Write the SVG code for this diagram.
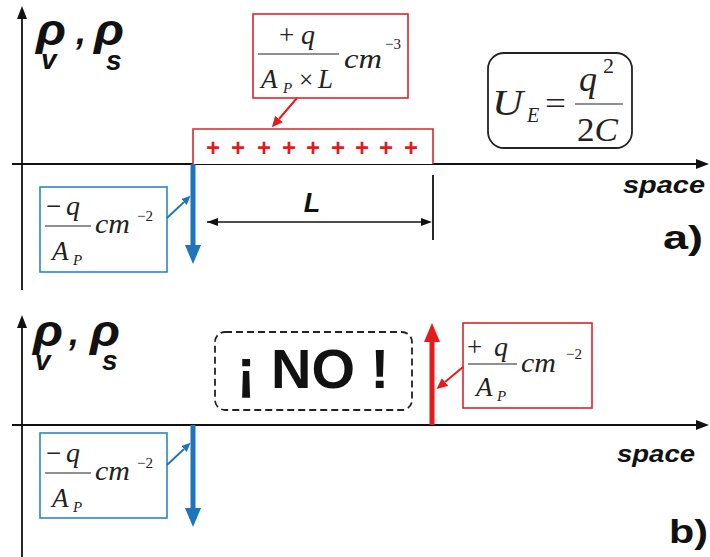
<svg xmlns="http://www.w3.org/2000/svg" width="710" height="557" viewBox="0 0 710 557">
<style>
.ax{stroke:#111;stroke-width:1.8;fill:none}
.rho{font-family:"Liberation Sans",Arial,sans-serif;font-weight:bold;font-style:italic;fill:#111}
.lab{font-family:"Liberation Sans",Arial,sans-serif;font-weight:bold;fill:#111}
.m{font-family:"Liberation Serif","Times New Roman",serif;fill:#222}
.mi{font-family:"Liberation Serif","Times New Roman",serif;font-style:italic;fill:#222}
.rbox{fill:#fff;stroke:#d8262e;stroke-width:1.6}
.bbox{fill:#fff;stroke:#2a86c8;stroke-width:1.6}
.frac{stroke:#222;stroke-width:1.2}
.plus{font-family:"Liberation Sans",Arial,sans-serif;font-weight:bold;fill:#e41a1c;font-size:24px}
</style>
<defs>
<marker id="ah" markerUnits="userSpaceOnUse" markerWidth="14" markerHeight="10" refX="0" refY="5" orient="auto"><path d="M0,0 L13,5 L0,10 z" fill="#111"/></marker>
<marker id="ahs" markerUnits="userSpaceOnUse" markerWidth="12" markerHeight="8" refX="0" refY="4" orient="auto"><path d="M0,0 L11,4 L0,8 z" fill="#111"/></marker>
<marker id="ahsr" markerUnits="userSpaceOnUse" markerWidth="12" markerHeight="8" refX="11" refY="4" orient="auto-start-reverse"><path d="M0,0 L11,4 L0,8 z" fill="#111"/></marker>
<marker id="blueBig" markerUnits="userSpaceOnUse" markerWidth="20" markerHeight="16" refX="0" refY="8" orient="auto"><path d="M0,0 L19,8 L0,16 z" fill="#1e74bd"/></marker>
<marker id="redBig" markerUnits="userSpaceOnUse" markerWidth="20" markerHeight="16" refX="0" refY="8" orient="auto"><path d="M0,0 L19,8 L0,16 z" fill="#e41a1c"/></marker>
<marker id="blueSm" markerUnits="userSpaceOnUse" markerWidth="10" markerHeight="8" refX="0" refY="4" orient="auto"><path d="M0,0 L9,4 L0,8 z" fill="#1e74bd"/></marker>
<marker id="redSm" markerUnits="userSpaceOnUse" markerWidth="12" markerHeight="10" refX="0" refY="5" orient="auto"><path d="M0,0 L11,5 L0,10 z" fill="#e41a1c"/></marker>
</defs>
<rect width="710" height="557" fill="#fff"/>

<!-- ===== Panel a ===== -->
<g id="axes-a">
<line class="ax" x1="22" y1="290" x2="22" y2="19" marker-end="url(#ah)"/>
<line class="ax" x1="12" y1="164" x2="696" y2="164" marker-end="url(#ah)"/>
<text class="rho" x="36" y="45" font-size="44" textLength="30" lengthAdjust="spacingAndGlyphs">ρ</text>
<text class="rho" x="41" y="69" font-size="28">v</text>
<text class="rho" x="76" y="44" font-size="36">,</text>
<text class="rho" x="94" y="45" font-size="44" textLength="30" lengthAdjust="spacingAndGlyphs">ρ</text>
<text class="rho" x="106" y="70" font-size="28">s</text>
<text class="rho" x="623" y="193" font-size="24" textLength="82" lengthAdjust="spacingAndGlyphs">space</text>
<text class="lab" x="663" y="249" font-size="34" textLength="40" lengthAdjust="spacingAndGlyphs">a)</text>
</g>

<g id="volume-charge">
<path class="rbox" d="M193,164 V129 H433 V164" fill="none"/>
<text class="plus" text-anchor="middle" y="156"><tspan x="213">+</tspan><tspan x="238">+</tspan><tspan x="264">+</tspan><tspan x="289">+</tspan><tspan x="313">+</tspan><tspan x="338">+</tspan><tspan x="362">+</tspan><tspan x="386">+</tspan><tspan x="411">+</tspan></text>
</g>

<g id="label-volume">
<rect class="rbox" x="253" y="14" width="155" height="84"/>
<text class="m" x="279" y="44" font-size="27">+</text>
<text class="mi" x="301" y="44" font-size="28">q</text>
<line class="frac" x1="258" y1="54" x2="339" y2="54"/>
<text class="mi" x="261" y="88" font-size="27">A</text>
<text class="mi" x="283" y="93" font-size="15">P</text>
<text class="m" x="299" y="88" font-size="25">×</text>
<text class="mi" x="318" y="88" font-size="27">L</text>
<text class="mi" x="344" y="68" font-size="28" textLength="38" lengthAdjust="spacingAndGlyphs">cm</text>
<text class="m" x="385" y="49" font-size="15">−3</text>
</g>

<g id="energy">
<rect x="488" y="53" width="144" height="95" rx="16" fill="#fff" stroke="#222" stroke-width="1.8"/>
<text class="mi" x="492" y="115" font-size="35" textLength="31" lengthAdjust="spacingAndGlyphs">U</text>
<text class="mi" x="527" y="122" font-size="20">E</text>
<text class="m" x="545" y="114" font-size="32" textLength="21" lengthAdjust="spacingAndGlyphs">=</text>
<text class="mi" x="579" y="91" font-size="36">q</text>
<text class="m" x="603" y="73" font-size="22">2</text>
<line class="frac" x1="575" y1="104" x2="623" y2="104"/>
<text class="m" x="577" y="141" font-size="34" textLength="41" lengthAdjust="spacingAndGlyphs">2<tspan font-style="italic">C</tspan></text>
</g>

<g id="surface-charge-a">
<line x1="193" y1="164" x2="193" y2="245" stroke="#1e74bd" stroke-width="5" marker-end="url(#blueBig)"/>
</g>

<g id="label-surface-a">
<rect class="bbox" x="40" y="187" width="127" height="85"/>
<text class="m" x="46" y="215" font-size="27">−</text>
<text class="mi" x="66" y="215" font-size="28">q</text>
<line class="frac" x1="45" y1="226" x2="91" y2="226"/>
<text class="mi" x="52" y="260" font-size="27">A</text>
<text class="mi" x="73" y="265" font-size="15">P</text>
<text class="mi" x="95" y="233" font-size="28" textLength="35" lengthAdjust="spacingAndGlyphs">cm</text>
<text class="m" x="137" y="221" font-size="15">−2</text>
</g>

<g id="dimension-L">
<line class="ax" x1="433" y1="175" x2="433" y2="240" stroke-width="1.5"/>
<line x1="207" y1="222" x2="421" y2="222" stroke="#111" stroke-width="1.5" marker-end="url(#ahs)" marker-start="url(#ahsr)"/>
<text class="rho" x="312" y="212" font-size="27" text-anchor="middle">L</text>
</g>

<!-- ===== Panel b ===== -->
<g id="axes-b">
<line class="ax" x1="22" y1="557" x2="22" y2="328" marker-end="url(#ah)"/>
<line class="ax" x1="12" y1="425" x2="696" y2="425" marker-end="url(#ah)"/>
<text class="rho" x="33" y="346" font-size="44" textLength="30" lengthAdjust="spacingAndGlyphs">ρ</text>
<text class="rho" x="35" y="370" font-size="28">v</text>
<text class="rho" x="69" y="345" font-size="36">,</text>
<text class="rho" x="90" y="346" font-size="44" textLength="30" lengthAdjust="spacingAndGlyphs">ρ</text>
<text class="rho" x="102" y="370" font-size="28">s</text>
<text class="rho" x="617" y="462" font-size="24" textLength="78" lengthAdjust="spacingAndGlyphs">space</text>
<text class="lab" x="669" y="543" font-size="34" textLength="39" lengthAdjust="spacingAndGlyphs">b)</text>
</g>

<g id="no-box">
<rect x="215" y="332" width="197" height="78" rx="10" fill="#fff" stroke="#222" stroke-width="1.8" stroke-dasharray="7,4"/>
<text class="lab" x="313" y="388" font-size="56" text-anchor="middle">¡ NO !</text>
</g>

<g id="surface-charge-plus">
<line x1="432" y1="425" x2="432" y2="342" stroke="#e41a1c" stroke-width="5" marker-end="url(#redBig)"/>
</g>

<g id="label-surface-plus">
<rect class="rbox" x="463" y="323" width="129" height="85"/>
<text class="m" x="467" y="356" font-size="27">+</text>
<text class="mi" x="494" y="356" font-size="28">q</text>
<line class="frac" x1="468" y1="364" x2="517" y2="364"/>
<text class="mi" x="476" y="396" font-size="27">A</text>
<text class="mi" x="497" y="401" font-size="15">P</text>
<text class="mi" x="521" y="372" font-size="28" textLength="35" lengthAdjust="spacingAndGlyphs">cm</text>
<text class="m" x="566" y="359" font-size="15">−2</text>
</g>

<g id="surface-charge-b">
<line x1="193" y1="425" x2="193" y2="508" stroke="#1e74bd" stroke-width="5" marker-end="url(#blueBig)"/>
</g>

<g id="label-surface-b">
<rect class="bbox" x="40" y="433" width="127" height="85"/>
<text class="m" x="46" y="462" font-size="27">−</text>
<text class="mi" x="66" y="462" font-size="28">q</text>
<line class="frac" x1="45" y1="473" x2="91" y2="473"/>
<text class="mi" x="52" y="507" font-size="27">A</text>
<text class="mi" x="73" y="512" font-size="15">P</text>
<text class="mi" x="95" y="480" font-size="28" textLength="35" lengthAdjust="spacingAndGlyphs">cm</text>
<text class="m" x="137" y="468" font-size="15">−2</text>
</g>

<g id="connectors">
<line x1="297" y1="98" x2="279" y2="119" stroke="#e41a1c" stroke-width="2" marker-end="url(#redSm)"/>
<line x1="167" y1="218" x2="184" y2="202" stroke="#1e74bd" stroke-width="1.8" marker-end="url(#blueSm)"/>
<line x1="463" y1="367" x2="445" y2="382" stroke="#e41a1c" stroke-width="2" marker-end="url(#redSm)"/>
<line x1="167" y1="465" x2="184" y2="449" stroke="#1e74bd" stroke-width="1.8" marker-end="url(#blueSm)"/>
</g>
</svg>
